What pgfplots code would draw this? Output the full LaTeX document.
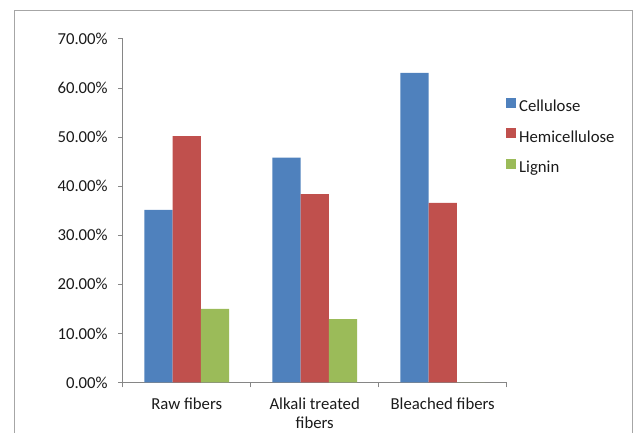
\documentclass[border=0pt]{standalone}
\usepackage{pgfplots}
\pgfplotsset{compat=1.18}
\usepackage{fontspec}
\setmainfont{Carlito}
\definecolor{cblue}{HTML}{4F81BD}
\definecolor{cred}{HTML}{C0504D}
\definecolor{cgreen}{HTML}{9BBB59}
\definecolor{axisgray}{HTML}{868686}
\definecolor{framegray}{HTML}{A6A6A6}
\definecolor{txt}{HTML}{1A1A1A}
\pgfplotsset{sqlegend/.style={legend image code/.code={\fill[##1,draw=none] (0bp,0bp) rectangle (10bp,10bp);}}}
\begin{document}
\begin{tikzpicture}[x=1bp,y=1bp]
\useasboundingbox (-122.7,-50.5) rectangle (510.3,382.5);
\draw[framegray, line width=1bp] (-107.7,-70) -- (-107.7,371.5) -- (509.3,371.5) -- (509.3,-70);
\begin{axis}[
  at={(0,0)}, anchor=south west,
  scale only axis, width=384bp, height=343.5bp,
  xmin=-0.5, xmax=2.5, ymin=0, ymax=70,
  axis lines*=left,
  axis line style={axisgray, line width=1bp},
  ytick={0,10,...,70},
  yticklabels={0.00\%,10.00\%,20.00\%,30.00\%,40.00\%,50.00\%,60.00\%,70.00\%},
  xtick={0,1,2},
  xticklabels={Raw fibers,{Alkali treated\\fibers},Bleached fibers},
  minor xtick={-0.5,0.5,1.5,2.5},
  tick align=outside,
  major tick length=4.5bp, minor tick length=5bp,
  major x tick style={draw=none},
  minor x tick style={axisgray, line width=1bp},
  y tick style={axisgray, line width=1bp},
  ybar=0pt, bar width=28.3bp,
  enlargelimits=false,
  /pgf/number format/assume math mode=true,
  tick label style={font=\fontsize{16.8}{19.8}\selectfont, text=txt},
  xticklabel style={align=center, yshift=-7bp},
  yticklabel style={xshift=-7bp},
  legend style={draw=none, fill=none, at={(0.998,0.8297)}, anchor=north west,
    inner sep=0pt, row sep=13.5bp, font=\fontsize{16.8}{19.8}\selectfont, text=txt,
    nodes={inner sep=0pt, text height=11bp, text depth=3bp},
    /tikz/every odd column/.append style={column sep=3bp}},
  legend cell align=left,
]
\addplot[fill=cblue, draw=none, sqlegend] coordinates {(0,35.2) (1,45.8) (2,63.1)};
\addplot[fill=cred, draw=none, sqlegend] coordinates {(0,50.2) (1,38.4) (2,36.6)};
\addplot[fill=cgreen, draw=none, sqlegend] coordinates {(0,15.0) (1,12.9) (2,0)};
\legend{Cellulose,Hemicellulose,Lignin}
\end{axis}
\end{tikzpicture}
\end{document}
